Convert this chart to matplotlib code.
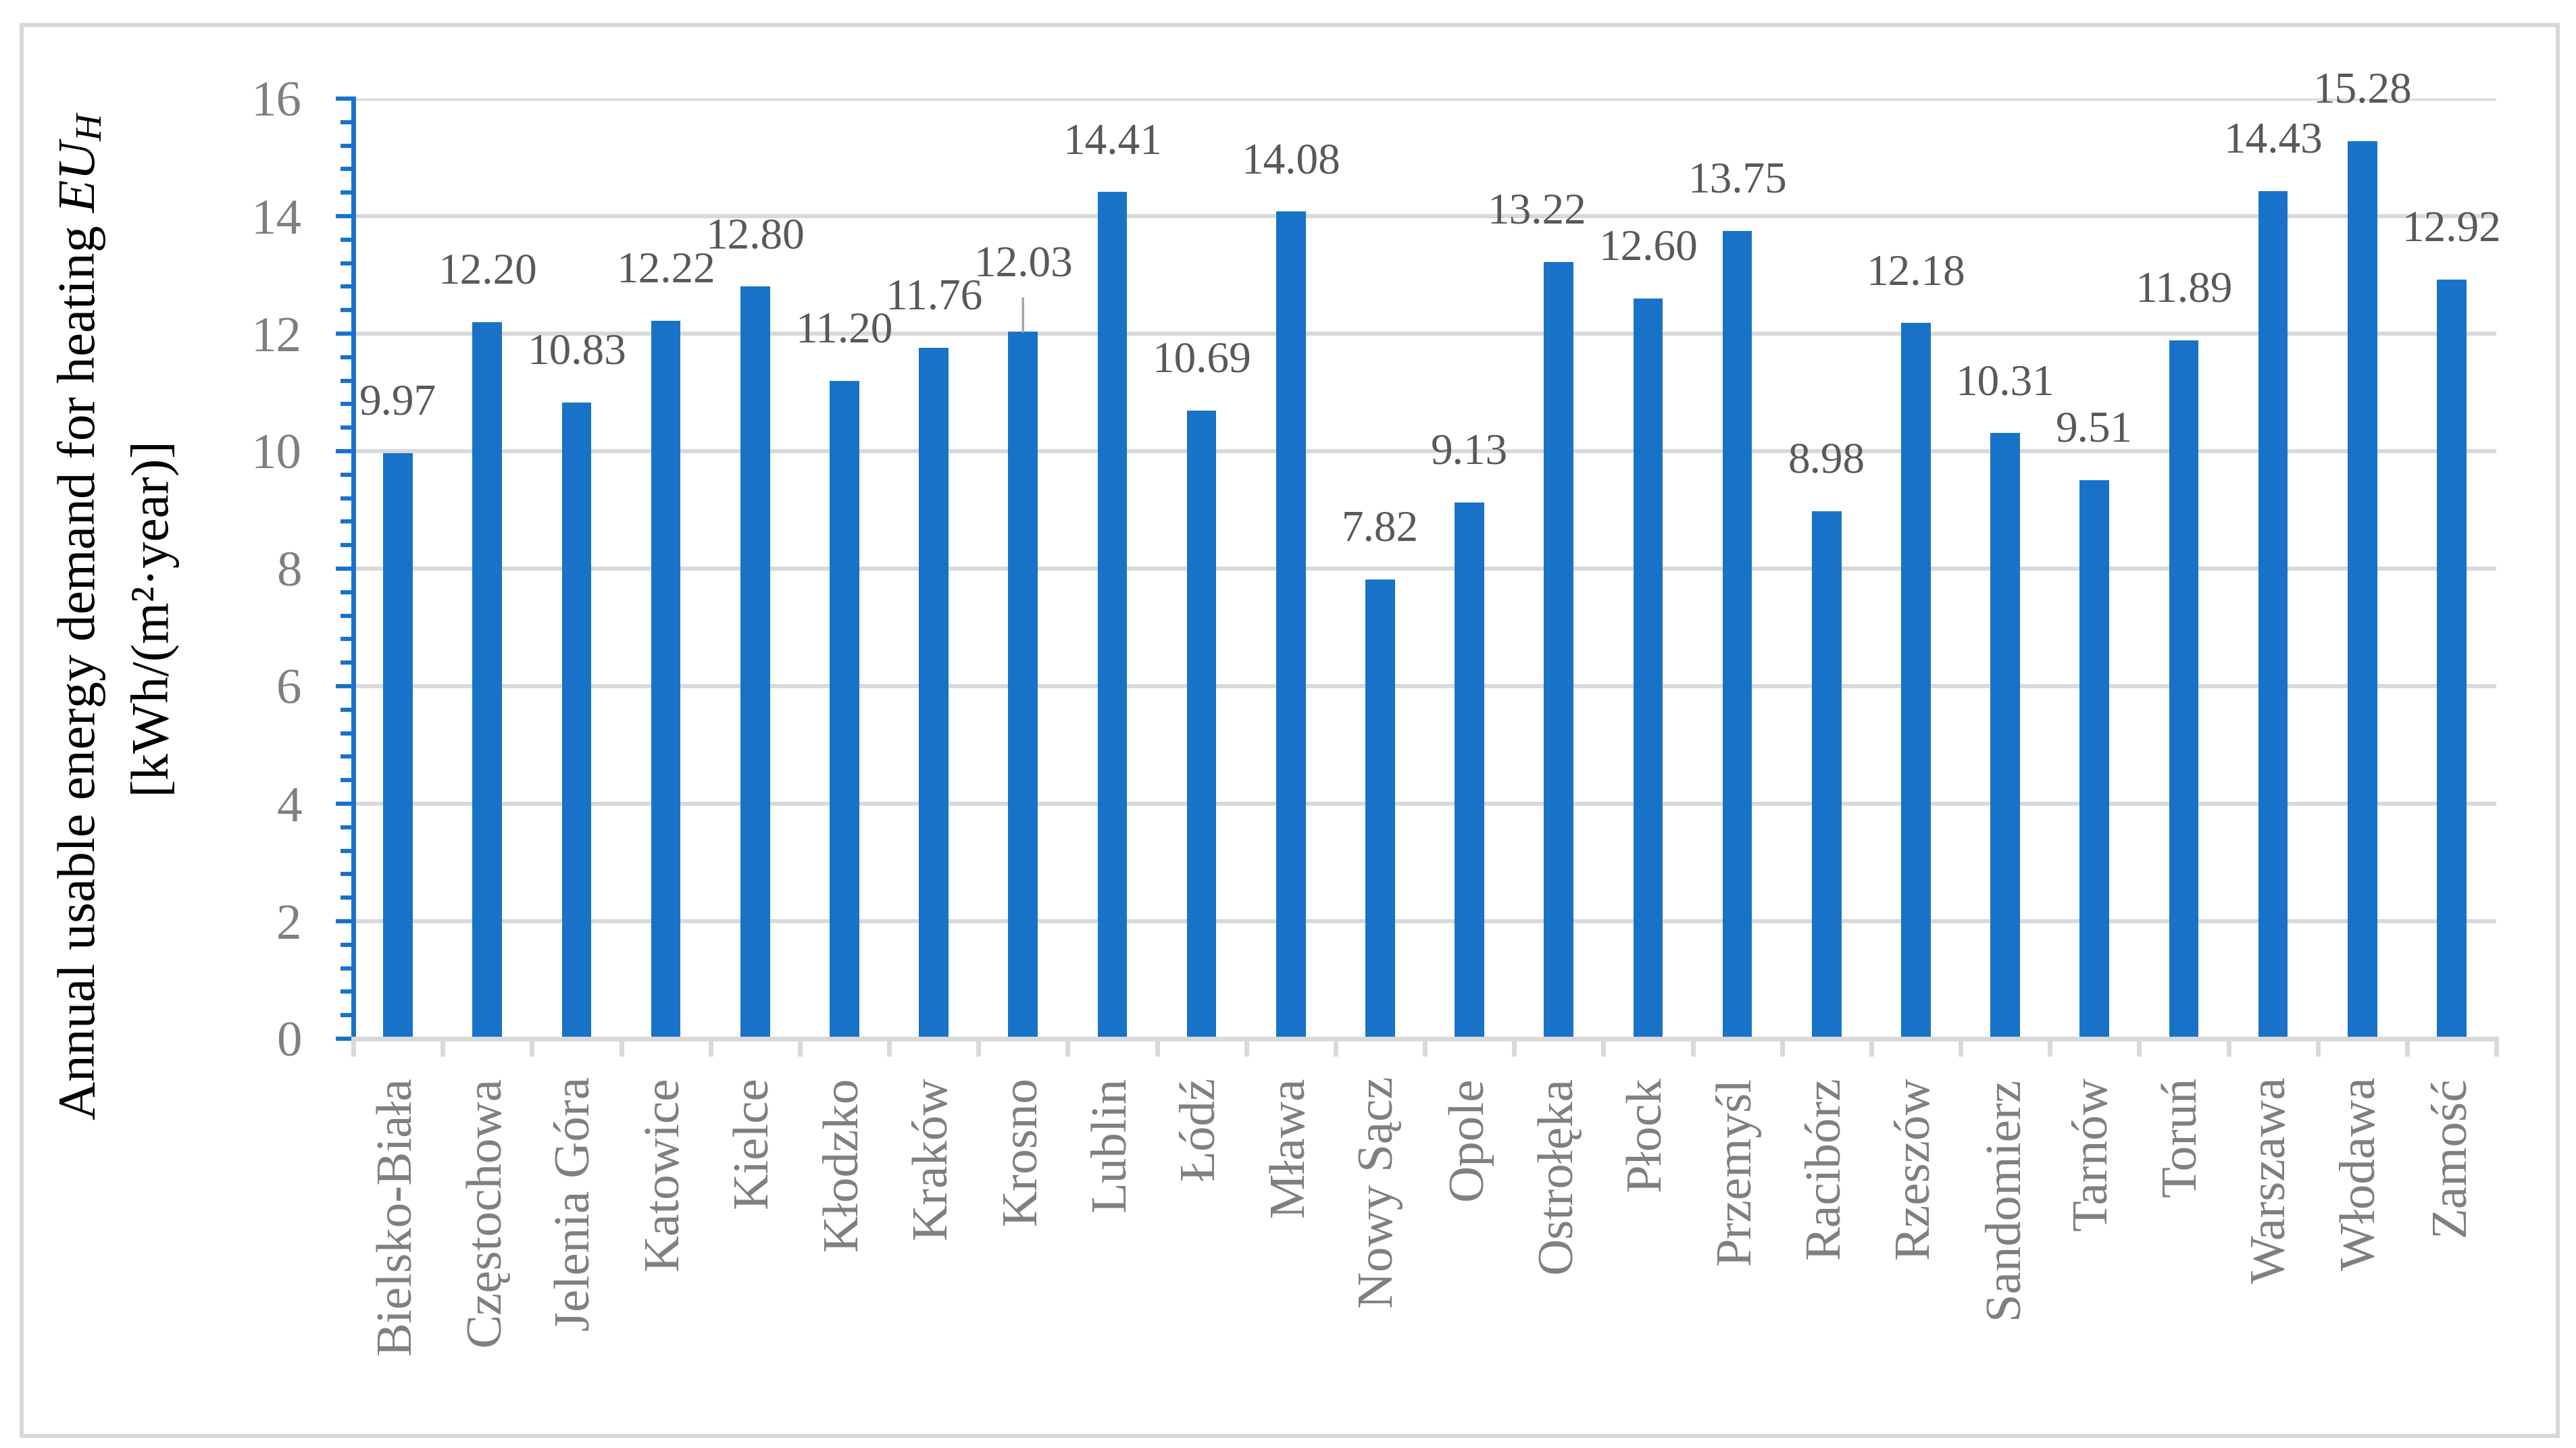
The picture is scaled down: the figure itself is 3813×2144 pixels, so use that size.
import numpy as np
import matplotlib
matplotlib.use("Agg")
import matplotlib.pyplot as plt
from matplotlib.patches import Rectangle
from matplotlib.ticker import MultipleLocator, FixedLocator, NullFormatter

plt.rcParams['font.family'] = ['Liberation Serif', 'DejaVu Serif']
plt.rcParams['mathtext.fontset'] = 'custom'
plt.rcParams['mathtext.rm'] = 'Liberation Serif'
plt.rcParams['mathtext.it'] = 'Liberation Serif:italic'

# Dane
cities = ['Bielsko-Biała', 'Częstochowa', 'Jelenia Góra', 'Katowice', 'Kielce',
          'Kłodzko', 'Kraków', 'Krosno', 'Lublin', 'Łódź', 'Mława', 'Nowy Sącz',
          'Opole', 'Ostrołęka', 'Płock', 'Przemyśl', 'Racibórz', 'Rzeszów',
          'Sandomierz', 'Tarnów', 'Toruń', 'Warszawa', 'Włodawa', 'Zamość']
eu_h = [9.97, 12.20, 10.83, 12.22, 12.80, 11.20, 11.76, 12.03, 14.41, 10.69,
        14.08, 7.82, 9.13, 13.22, 12.60, 13.75, 8.98, 12.18, 10.31, 9.51,
        11.89, 14.43, 15.28, 12.92]
y_ticks = [0, 2, 4, 6, 8, 10, 12, 14, 16]

bar_color = '#1873C8'
grid_color = '#D9D9D9'

W, H = 3813, 2144
fig = plt.figure(figsize=(W / 100, H / 100), dpi=100)
ax = fig.add_axes([523 / W, 1 - 1538 / H, (3695 - 523) / W, (1538 - 146) / H])

x = np.arange(len(cities))
ax.bar(x, eu_h, width=0.33, color=bar_color, zorder=2)

ax.set_xlim(-0.5, len(cities) - 0.5)
ax.set_ylim(0, 16)

# os Y
ax.yaxis.set_major_locator(FixedLocator(y_ticks))
ax.yaxis.set_minor_locator(MultipleLocator(0.4))
ax.tick_params(axis='y', which='major', direction='out', length=19, width=4.5,
               color=bar_color, labelcolor='#7F7F7F', labelsize=54, pad=36)
ax.tick_params(axis='y', which='minor', direction='out', length=14, width=4.5,
               color=bar_color)
ax.yaxis.grid(True, which='major', color=grid_color, lw=4.3)
ax.set_axisbelow(True)

# os X
ax.xaxis.set_major_locator(FixedLocator(x))
ax.set_xticklabels(cities, rotation=90)
ax.xaxis.set_minor_locator(FixedLocator(np.arange(len(cities) + 1) - 0.5))
ax.xaxis.set_minor_formatter(NullFormatter())
ax.tick_params(axis='x', which='major', length=0, labelcolor='#7F7F7F',
               labelsize=54, pad=40)
ax.tick_params(axis='x', which='minor', direction='out', length=19, width=5,
               color=grid_color)

for s in ['top', 'right']:
    ax.spines[s].set_visible(False)
ax.spines['left'].set_color(bar_color)
ax.spines['left'].set_linewidth(5)
ax.spines['bottom'].set_color(grid_color)
ax.spines['bottom'].set_linewidth(5)

# etykiety danych (przesunięcia w pikselach, jak na oryginale)
label_dx = [0] * len(cities)
label_dy = [57] * len(cities)
label_dx[cities.index('Ostrołęka')] = -33
label_dy[cities.index('Krosno')] = 83

for i, v in enumerate(eu_h):
    if cities[i] == 'Krosno':
        ax.annotate(f'{v:.2f}', xy=(i, v), xytext=(label_dx[i], label_dy[i]),
                    textcoords='offset pixels', ha='center', va='baseline',
                    fontsize=47, color='#595959',
                    arrowprops=dict(arrowstyle='-', color='#A6A6A6', lw=2.5,
                                    shrinkA=12, shrinkB=0))
    else:
        ax.annotate(f'{v:.2f}', xy=(i, v), xytext=(label_dx[i], label_dy[i]),
                    textcoords='offset pixels', ha='center', va='baseline',
                    fontsize=47, color='#595959')

# opis osi Y
fig.text(140 / W, 1 - 912 / H, r'Annual usable energy demand for heating $\mathit{EU}_H$',
         rotation=90, rotation_mode='anchor', ha='center', va='baseline',
         fontsize=57, color='black')
fig.text(243 / W, 1 - 911 / H, '[kWh/(m²·year)]',
         rotation=90, rotation_mode='anchor', ha='center', va='baseline',
         fontsize=57, color='black')

# ramka
fig.patches.append(Rectangle((32 / W, 1 - 2126 / H), (3786 - 32) / W, (2126 - 37) / H,
                             transform=fig.transFigure, fill=False,
                             ec=grid_color, lw=4.5))

fig.savefig('out.png', dpi=100, facecolor='white')
